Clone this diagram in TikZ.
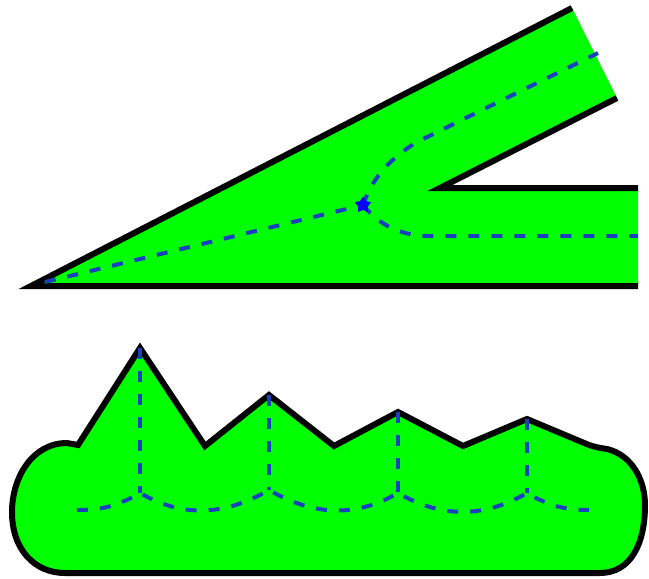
\documentclass[tikz,border=0pt]{standalone}
\usepackage{tikz}
\usepackage{xcolor}
\usetikzlibrary{shapes.geometric}
\definecolor{leafgreen}{RGB}{0,255,0}
\definecolor{axisblue}{RGB}{25,65,190}

\begin{document}
\begin{tikzpicture}[x=1pt,y=-1pt,
  outline/.style={line width=6pt,line join=miter},
  midline/.style={axisblue,line width=4pt,dash pattern=on 11pt off 12pt}]
  \useasboundingbox (0,0) rectangle (649,579);
  % forked strip
  \fill[leafgreen] (31,286) -- (572,8) -- (617,98) -- (440,188) -- (638,188) -- (638,286) -- cycle;
  \draw[outline] (617,98) -- (440,188) -- (638,188);
  \draw[outline] (638,286) -- (31,286) -- (572,8);
  \coordinate (fork) at (363,205);
  \draw[midline] (45,282) -- (fork);
  \draw[midline] (fork) .. controls (372,180) and (385,163) .. (415,143) -- (598,53);
  \draw[midline] (fork) .. controls (375,220) and (395,236) .. (430,236) -- (638,236);
  \node[star,star points=5,star point ratio=1.7,fill=blue,inner sep=0pt,minimum size=17pt] (forkmark) at (fork) {};
  % crown with bulges
  \draw[outline,fill=leafgreen] (78,445) -- (140,348) -- (205,446) -- (269,395) -- (334,446)
    -- (398,412) -- (463,446) -- (527,419) -- (589,445)
    .. controls (595,447) and (600,448) .. (607,449)
    .. controls (632,455) and (645,480) .. (645,505)
    .. controls (645,545) and (630,573) .. (600,573) -- (65,573)
    .. controls (35,573) and (12,550) .. (12,512)
    .. controls (12,478) and (32,443) .. (67,443) -- cycle;
  \foreach \x/\yt/\yb [count=\i] in {140/348/493, 269/395/490, 398/412/493, 527/419/493}{
    \coordinate (peak\i) at (\x,\yt);
    \coordinate (foot\i) at (\x,\yb);
    \draw[midline] (peak\i) -- (foot\i);
  }
  \coordinate (baseL) at (77,510);
  \coordinate (baseR) at (589,510);
  \draw[midline] (baseL) to[out=0,in=210] (foot1) to[out=-30,in=210] (foot2)
    to[out=-30,in=210] (foot3) to[out=-30,in=210] (foot4) to[out=-30,in=180] (baseR);
\end{tikzpicture}
\end{document}
